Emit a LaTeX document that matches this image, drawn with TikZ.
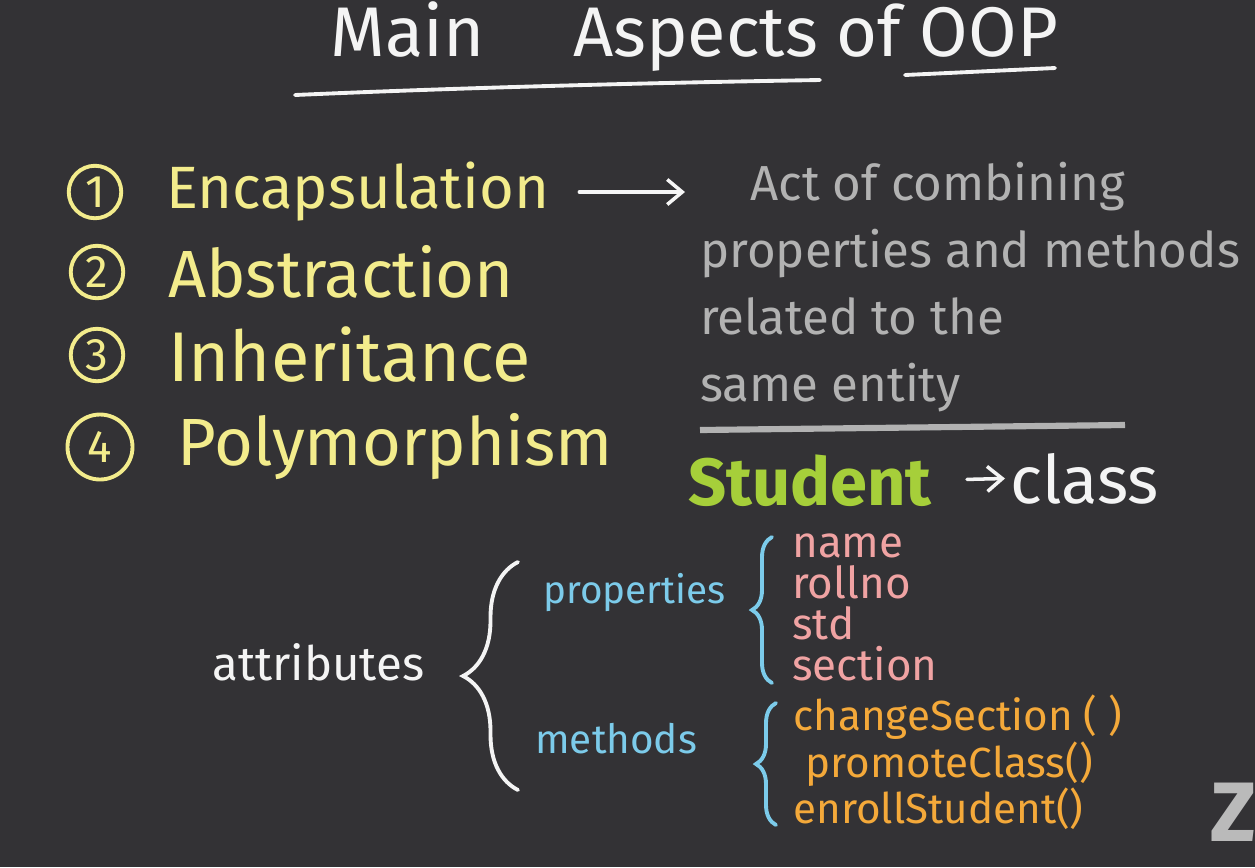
\documentclass[tikz,border=0pt]{standalone}
\usepackage{fontspec}
\setmainfont{Fira Sans}
\usepackage{tikz}
\usepackage{xcolor}
\usetikzlibrary{arrows.meta, positioning, decorations.pathreplacing}
\definecolor{board}{HTML}{333235}
\definecolor{chalk}{HTML}{F4F4F4}
\definecolor{lemon}{HTML}{F3EC8C}
\definecolor{ash}{HTML}{B2B2B2}
\definecolor{leaf}{HTML}{A6CF3A}
\definecolor{sky}{HTML}{7CCBEA}
\definecolor{rose}{HTML}{F0A3A3}
\definecolor{amber}{HTML}{F4A93A}
\tikzset{
  heading/.style={text=chalk, font=\fontsize{40}{44}\selectfont, inner sep=0pt},
  numring/.style={
    circle, draw=lemon, line width=2.2pt, text=lemon,
    minimum size=1.05cm, inner sep=0pt, font=\fontsize{26}{26}\selectfont
  },
  aspect/.style={text=lemon, font=\fontsize{38}{40}\selectfont, anchor=west, inner sep=0pt},
  note/.style={text=ash, font=\fontsize{28}{38}\selectfont, align=left, inner sep=0pt},
  member/.style={text=#1, font=\fontsize{23}{26}\selectfont, anchor=base west, inner sep=0pt},
  member/.default=sky,
  chalkline/.style={line width=2.2pt, line cap=round},
  darrow/.style={-{Straight Barb[length=3mm, width=5mm]}, line width=2pt, line cap=round},
  curly/.style={decorate, decoration={brace, amplitude=#1}, line width=2.2pt, line cap=round}
}

\begin{document}
\begin{tikzpicture}[x=0.02cm, y=-0.02cm]
    % Board
    \fill[board] (0,0) rectangle (1255,867);
    \useasboundingbox (0,0) rectangle (1255,867);
    \clip (0,0) rectangle (1255,867);

    % Heading
    \node[heading, anchor=base west] (title) at (330,56) {Main\hspace{1em} Aspects of OOP};
    \draw[chalkline, chalk] (295,95) .. controls (500,86) and (700,82) .. (820,80);
    \draw[chalkline, chalk] (905,75) -- (1055,68);

    % Four aspects
    \node[numring] (n1) at (95,192) {1};
    \node[numring] (n2) at (97,272) {2};
    \node[numring] (n3) at (97,355) {3};
    \node[numring, minimum size=1.3cm] (n4) at (100,447) {4};
    \node[aspect, right=0.85cm of n1, font=\fontsize{34}{40}\selectfont] (encap) {Encapsulation};
    \node[aspect, right=0.85cm of n2] (abstr) {Abstraction};
    \node[aspect, right=0.85cm of n3, font=\fontsize{40}{40}\selectfont] (inher) {Inheritance};
    \node[aspect, right=0.85cm of n4] (poly) {Polymorphism};

    % Definition of encapsulation
    \node[note, anchor=north west] (defn) at (700,162)
      {\hspace*{1cm}Act of combining\\properties and methods\\related to the\\same entity};
    \draw[darrow, draw=chalk!80, shorten <=0.6cm, shorten >=0.3cm] (encap.east) -- (encap.east -| defn.west);
    \draw[ash, line width=3.5pt] (700,430) -- (1125,425);

    % Student class
    \node[text=leaf, font=\fontsize{38}{40}\selectfont\bfseries, anchor=base west, inner sep=0pt] (student) at (688,505) {Student};
    \node[text=chalk, font=\fontsize{38}{40}\selectfont, anchor=base west, inner sep=0pt] (cls) at (1010,503) {class};
    \draw[darrow, draw=chalk, shorten <=0.7cm, shorten >=0.1cm] (student.east) -- (cls.west);

    % Attributes
    \node[text=chalk, font=\fontsize{27}{30}\selectfont, anchor=base west, inner sep=0pt] (attrs) at (212,680) {attributes};
    \draw[curly=1.1cm, chalk] (518,790) -- (518,562);
    \node[member, font=\fontsize{22}{26}\selectfont] (props) at (543,603) {properties};
    \node[member] (meths) at (535,753) {methods};
    \draw[curly=0.4cm, sky] (772,683) -- (772,537);
    \draw[curly=0.4cm, sky] (776,825) -- (776,703);
    \node[text=rose, font=\fontsize{25}{23.5}\selectfont, align=left, anchor=north west, inner sep=0pt] (propitems) at (792,533)
      {name\\rollno\\std\\section};
    \node[text=amber, font=\fontsize{24}{23}\selectfont, align=left, anchor=north west, inner sep=0pt] (methitems) at (793,695)
      {changeSection ( )\\\hspace*{0.25cm}promoteClass()\\enrollStudent()};

    % Corner logo
    \node[text=ash!90, font=\fontsize{48}{48}\selectfont\bfseries, anchor=west, inner sep=0pt] (logo) at (1210,812) {Z};
\end{tikzpicture}
\end{document}
